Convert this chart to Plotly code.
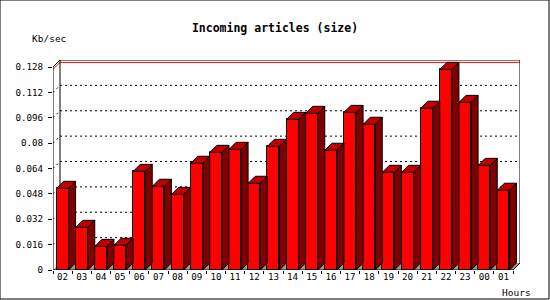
import plotly.graph_objects as go

# ---- data ----
hours = ["02", "03", "04", "05", "06", "07", "08", "09", "10", "11", "12", "13",
         "14", "15", "16", "17", "18", "19", "20", "21", "22", "23", "00", "01"]
kb_per_sec = [0.0515, 0.0269, 0.0149, 0.0156, 0.0622, 0.0528, 0.0477, 0.0673,
              0.0742, 0.0761, 0.0547, 0.0780, 0.0950, 0.0988, 0.0755, 0.0994,
              0.0919, 0.0616, 0.0616, 0.1020, 0.1265, 0.1057, 0.0660, 0.0503]
y_ticks = [0, 0.016, 0.032, 0.048, 0.064, 0.08, 0.096, 0.112, 0.128]
y_tick_labels = ["0", "0.016", "0.032", "0.048", "0.064", "0.08", "0.096", "0.112", "0.128"]
title_text = "Incoming articles (size)"
y_unit = "Kb/sec"
x_unit = "Hours"

# ---- geometry / style ----
W, H = 550, 300
ml, mr, mt, mb = 53, 30, 60, 30
n = len(hours)
plot_w = W - ml - mr
plot_h = H - mt - mb
depth_px = 7
slot_px = (plot_w - depth_px) / n
dx = depth_px / slot_px
ymax = y_ticks[-1]
unit_px = (plot_h - depth_px) / ymax
dy = depth_px / unit_px
bw = 12 / slot_px

FRONT = "#ff0000"
TOP = "#c00000"
SIDE = "#800000"
FLOOR = "#999999"
FONT = "DejaVu Sans Mono"

x0, x1 = -0.5, n - 0.5
xs = list(range(n))

fig = go.Figure()

# front faces
fig.add_trace(go.Bar(
    x=xs, y=kb_per_sec, width=bw, marker=dict(color=FRONT, line=dict(color="black", width=1)),
    showlegend=False, hovertemplate="%{y}<extra></extra>"))

# side and top faces built from the values
sx, sy, tx, ty = [], [], [], []
for i, v in enumerate(kb_per_sec):
    xl = i - bw / 2
    xr = i + bw / 2
    sx += [xr, xr, xr + dx, xr + dx, xr, None]
    sy += [0, v, v + dy, dy, 0, None]
    tx += [xl, xl + dx, xr + dx, xr, xl, None]
    ty += [v, v + dy, v + dy, v, v, None]

fig.add_trace(go.Scatter(x=sx, y=sy, fill="toself", fillcolor=SIDE, mode="lines",
                         line=dict(color="black", width=1), hoverinfo="skip", showlegend=False))
fig.add_trace(go.Scatter(x=tx, y=ty, fill="toself", fillcolor=TOP, mode="lines",
                         line=dict(color="black", width=1), hoverinfo="skip", showlegend=False))

shapes = []
# floor (below all traces)
shapes.append(dict(type="path", xref="x", yref="y",
                   path=f"M {x0},0 L {x0 + dx},{dy} L {x1 + dx},{dy} L {x1},0 Z",
                   fillcolor=FLOOR, line=dict(width=0), layer="below"))
# dotted gridlines on back wall + diagonal ticks
for v in y_ticks[1:-1]:
    shapes.append(dict(type="line", xref="x", yref="y", x0=x0 + dx, x1=x1 + dx, y0=v + dy, y1=v + dy,
                       line=dict(color="black", width=1, dash="2px,3px"), layer="below"))
    shapes.append(dict(type="line", xref="x", yref="y", x0=x0, x1=x0 + dx, y0=v, y1=v + dy,
                       line=dict(color="black", width=1, dash="2px,3px"), layer="below"))
# max line (red)
vmax = max(kb_per_sec)
shapes.append(dict(type="line", xref="x", yref="y", x0=x0 + dx, x1=x1 + dx, y0=vmax + dy, y1=vmax + dy,
                   line=dict(color="red", width=1), layer="below"))
shapes.append(dict(type="line", xref="x", yref="y", x0=x0, x1=x0 + dx, y0=vmax, y1=vmax + dy,
                   line=dict(color="red", width=1), layer="below"))
# frame lines
frame = [
    (x0, 0, x0, ymax),
    (x0, 0, x1, 0),
    (x0, ymax, x0 + dx, ymax + dy),
    (x0 + dx, dy, x0 + dx, ymax + dy),
    (x0 + dx, ymax + dy, x1 + dx, ymax + dy),
    (x1 + dx, dy, x1 + dx, ymax + dy),
    (x1, 0, x1 + dx, dy),
]
for (a, b, c, d) in frame:
    shapes.append(dict(type="line", xref="x", yref="y", x0=a, y0=b, x1=c, y1=d,
                       line=dict(color="black", width=1), layer="below"))
# image border
shapes.append(dict(type="rect", xref="paper", yref="paper", x0=-ml / plot_w, x1=1 + (mr - 1) / plot_w,
                   y0=-(mb - 1) / plot_h, y1=1 + mt / plot_h, line=dict(color="black", width=1)))

fig.update_layout(
    width=W, height=H, margin=dict(l=ml, r=mr, t=mt, b=mb, pad=0),
    paper_bgcolor="white", plot_bgcolor="white",
    font=dict(family=FONT, size=9, color="black"),
    title=dict(text="<b>" + title_text + "</b>", x=0.5, xref="container", xanchor="center",
               y=1 - 28 / H, yref="container", yanchor="middle",
               font=dict(family=FONT, size=11.5, color="black")),
    shapes=shapes,
    bargap=0,
    xaxis=dict(range=[x0, x1 + dx], tickvals=xs, ticktext=hours, ticks="", showgrid=False,
               zeroline=False, showline=False, fixedrange=True,
               minor=dict(tick0=-0.5, dtick=1, ticks="outside", ticklen=3, tickcolor="black",
                          showgrid=False),
               tickfont=dict(family=FONT, size=9.2, color="black")),
    yaxis=dict(range=[0, ymax + dy], tickvals=y_ticks, ticktext=y_tick_labels, ticks="outside",
               ticklen=4, tickcolor="black", showgrid=False, zeroline=False, showline=False,
               ticklabelstandoff=3, fixedrange=True,
               tickfont=dict(family=FONT, size=9.2, color="black")),
    annotations=[
        dict(text=y_unit, xref="paper", yref="paper", x=0, y=1, xanchor="left", yanchor="middle",
             xshift=-23, yshift=21.5, showarrow=False, font=dict(family=FONT, size=9.5, color="black")),
        dict(text=x_unit, xref="paper", yref="paper", x=1, y=0, xanchor="right", yanchor="middle",
             xshift=13, yshift=-22, showarrow=False, font=dict(family=FONT, size=9.5, color="black")),
    ],
)

fig.write_html("out.html")
